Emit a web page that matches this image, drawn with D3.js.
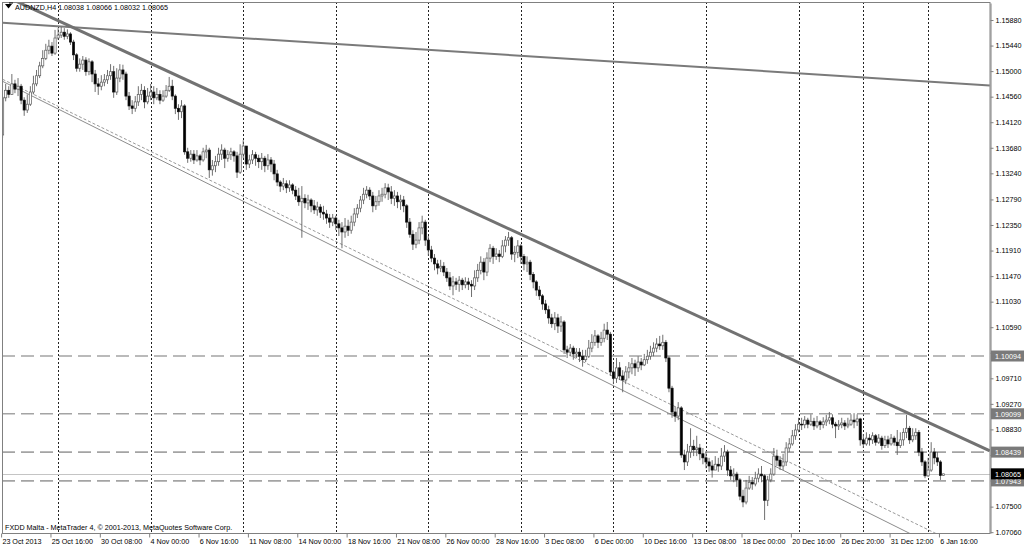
<!DOCTYPE html>
<html>
<head>
<meta charset="utf-8">
<script src="https://cdn.jsdelivr.net/npm/d3@7"></script>
<style>
    body { margin: 0; background: #fff; }
    svg { display: block; font-family: "Liberation Sans", Arial, sans-serif; }
</style>
</head>
<body>
<svg id="chart" width="1024" height="547"></svg>
<script>
// AUDNZD H4 bars, 23 Oct 2013 - 6 Jan 2014 (open = previous close)
var symbol = "AUDNZD,H4";
var firstOpen = 1.1390;
var closes = [
    1.1454,1.1467,1.1460,1.1478,1.1469,1.1474,1.1450,1.1433,1.1443,1.1464,
    1.1478,1.1492,1.1509,1.1522,1.1536,1.1543,1.1531,1.1557,1.1562,1.1567,
    1.1560,1.1564,1.1550,1.1528,1.1505,1.1512,1.1519,1.1499,1.1516,1.1495,
    1.1478,1.1474,1.1481,1.1485,1.1492,1.1499,1.1464,1.1488,1.1502,1.1495,
    1.1457,1.1440,1.1436,1.1447,1.1460,1.1467,1.1447,1.1457,1.1464,1.1454,
    1.1460,1.1450,1.1457,1.1467,1.1474,1.1457,1.1436,1.1430,1.1440,1.1361,
    1.1350,1.1357,1.1347,1.1354,1.1347,1.1361,1.1364,1.1330,1.1337,1.1344,
    1.1357,1.1364,1.1350,1.1356,1.1361,1.1354,1.1326,1.1357,1.1371,1.1340,
    1.1347,1.1356,1.1350,1.1344,1.1350,1.1337,1.1347,1.1340,1.1323,1.1309,
    1.1302,1.1306,1.1299,1.1304,1.1295,1.1285,1.1275,1.1281,1.1273,1.1278,
    1.1268,1.1261,1.1266,1.1257,1.1254,1.1247,1.1240,1.1247,1.1237,1.1230,
    1.1223,1.1233,1.1226,1.1240,1.1254,1.1264,1.1278,1.1288,1.1295,1.1285,
    1.1268,1.1275,1.1285,1.1288,1.1299,1.1292,1.1281,1.1285,1.1275,1.1278,
    1.1268,1.1240,1.1219,1.1202,1.1209,1.1230,1.1240,1.1209,1.1192,1.1178,
    1.1168,1.1161,1.1164,1.1154,1.1144,1.1130,1.1137,1.1133,1.1140,1.1132,
    1.1137,1.1133,1.1130,1.1144,1.1157,1.1171,1.1154,1.1178,1.1195,1.1181,
    1.1185,1.1181,1.1199,1.1209,1.1213,1.1185,1.1188,1.1199,1.1181,1.1168,
    1.1171,1.1150,1.1137,1.1123,1.1113,1.1099,1.1089,1.1075,1.1065,1.1075,
    1.1061,1.1068,1.1020,1.1016,1.1023,1.1013,1.1016,1.1009,1.1003,1.1009,
    1.1023,1.1033,1.1044,1.1033,1.1040,1.1054,1.1047,1.0982,1.0971,1.0989,
    1.0975,1.0968,1.0982,1.0989,1.0996,1.0989,1.0999,1.0994,1.1003,1.1009,
    1.1016,1.1023,1.1030,1.1027,1.1033,1.1006,1.0954,1.0913,1.0906,1.0920,
    1.0839,1.0827,1.0844,1.0854,1.0848,1.0851,1.0841,1.0834,1.0827,1.0820,
    1.0813,1.0823,1.0820,1.0837,1.0844,1.0813,1.0803,1.0806,1.0796,1.0768,
    1.0758,1.0782,1.0792,1.0789,1.0799,1.0806,1.0803,1.0761,1.0796,1.0806,
    1.0837,1.0830,1.0820,1.0827,1.0851,1.0858,1.0872,1.0882,1.0892,1.0891,
    1.0899,1.0892,1.0897,1.0889,1.0896,1.0891,1.0896,1.0899,1.0903,1.0892,
    1.0889,1.0891,1.0894,1.0889,1.0892,1.0899,1.0896,1.0901,1.0865,1.0858,
    1.0868,1.0865,1.0872,1.0861,1.0868,1.0855,1.0865,1.0858,1.0868,1.0861,
    1.0855,1.0865,1.0878,1.0885,1.0865,1.0872,1.0878,1.0844,1.0827,1.0803,
    1.0813,1.0844,1.0834,1.0827,1.08038,1.08065
];
var highs = [
    1.1457,1.1478,1.1474,1.1495,1.1485,1.1488,1.1478,1.1455,1.1460,1.1474,
    1.1492,1.1502,1.1516,1.1536,1.1547,1.1554,1.1550,1.1571,1.1574,1.1576,
    1.1574,1.1572,1.1567,1.1554,1.1531,1.1522,1.1526,1.1524,1.1522,1.1519,
    1.1502,1.1488,1.1493,1.1495,1.1502,1.1512,1.1509,1.1505,1.1512,1.1511,
    1.1499,1.1464,1.1450,1.1457,1.1474,1.1478,1.1474,1.1471,1.1478,1.1474,
    1.1471,1.1467,1.1467,1.1476,1.1490,1.1485,1.1460,1.1443,1.1450,1.1443,
    1.1368,1.1364,1.1364,1.1364,1.1357,1.1368,1.1373,1.1368,1.1347,1.1354,
    1.1368,1.1374,1.1368,1.1364,1.1368,1.1364,1.1361,1.1374,1.1381,1.1368,
    1.1356,1.1364,1.1361,1.1356,1.1359,1.1354,1.1357,1.1352,1.1347,1.1330,
    1.1312,1.1316,1.1312,1.1312,1.1307,1.1302,1.1299,1.1302,1.1288,1.1287,
    1.1281,1.1278,1.1275,1.1271,1.1268,1.1261,1.1254,1.1254,1.1251,1.1244,
    1.1240,1.1247,1.1244,1.1251,1.1264,1.1271,1.1285,1.1299,1.1302,1.1300,
    1.1292,1.1285,1.1295,1.1299,1.1307,1.1306,1.1302,1.1295,1.1292,1.1287,
    1.1285,1.1271,1.1247,1.1226,1.1223,1.1240,1.1251,1.1244,1.1216,1.1199,
    1.1185,1.1175,1.1175,1.1171,1.1161,1.1154,1.1147,1.1144,1.1147,1.1144,
    1.1145,1.1144,1.1140,1.1157,1.1168,1.1181,1.1178,1.1188,1.1202,1.1199,
    1.1195,1.1192,1.1209,1.1216,1.1223,1.1216,1.1199,1.1209,1.1202,1.1185,
    1.1181,1.1175,1.1154,1.1140,1.1130,1.1116,1.1106,1.1096,1.1082,1.1085,
    1.1082,1.1078,1.1071,1.1027,1.1030,1.1027,1.1023,1.1023,1.1020,1.1020,
    1.1037,1.1047,1.1054,1.1047,1.1051,1.1065,1.1068,1.1051,1.0996,1.1006,
    1.0999,1.0985,1.0992,1.0999,1.1006,1.1003,1.1009,1.1006,1.1013,1.1020,
    1.1027,1.1033,1.1040,1.1044,1.1046,1.1037,1.1009,1.0958,1.0923,1.0930,
    1.0923,1.0848,1.0858,1.0885,1.0865,1.0872,1.0858,1.0851,1.0844,1.0834,
    1.0830,1.0837,1.0834,1.0851,1.0856,1.0848,1.0820,1.0816,1.0810,1.0799,
    1.0779,1.0796,1.0803,1.0801,1.0810,1.0816,1.0820,1.0806,1.0803,1.0816,
    1.0851,1.0848,1.0837,1.0841,1.0861,1.0868,1.0882,1.0892,1.0903,1.0903,
    1.0906,1.0903,1.0909,1.0903,1.0906,1.0899,1.0904,1.0908,1.0913,1.0909,
    1.0896,1.0899,1.0903,1.0899,1.0903,1.0909,1.0911,1.0909,1.0903,1.0875,
    1.0878,1.0875,1.0878,1.0875,1.0875,1.0872,1.0872,1.0872,1.0875,1.0872,
    1.0882,1.0878,1.0885,1.0908,1.0889,1.0885,1.0885,1.0882,1.0851,1.0830,
    1.0834,1.0861,1.0851,1.0844,1.0830,1.08066
];
var lows = [
    1.1385,1.1448,1.1454,1.1459,1.1462,1.1457,1.1443,1.1423,1.1428,1.1440,
    1.1460,1.1474,1.1488,1.1505,1.1519,1.1529,1.1526,1.1528,1.1554,1.1557,
    1.1554,1.1555,1.1545,1.1519,1.1499,1.1499,1.1502,1.1492,1.1493,1.1481,
    1.1464,1.1459,1.1467,1.1474,1.1478,1.1485,1.1454,1.1459,1.1481,1.1485,
    1.1450,1.1433,1.1426,1.1430,1.1440,1.1450,1.1436,1.1443,1.1450,1.1443,
    1.1450,1.1443,1.1447,1.1454,1.1464,1.1450,1.1426,1.1416,1.1419,1.1356,
    1.1342,1.1344,1.1340,1.1344,1.1338,1.1344,1.1350,1.1316,1.1320,1.1326,
    1.1337,1.1347,1.1333,1.1344,1.1347,1.1344,1.1316,1.1323,1.1350,1.1330,
    1.1333,1.1340,1.1337,1.1333,1.1330,1.1326,1.1330,1.1326,1.1312,1.1302,
    1.1292,1.1295,1.1290,1.1292,1.1288,1.1278,1.1268,1.1213,1.1264,1.1261,
    1.1257,1.1254,1.1251,1.1247,1.1244,1.1237,1.1230,1.1233,1.1226,1.1216,
    1.1195,1.1213,1.1216,1.1220,1.1233,1.1247,1.1257,1.1271,1.1281,1.1278,
    1.1257,1.1261,1.1268,1.1275,1.1281,1.1278,1.1271,1.1268,1.1264,1.1261,
    1.1257,1.1230,1.1213,1.1192,1.1195,1.1202,1.1219,1.1199,1.1182,1.1171,
    1.1157,1.1150,1.1154,1.1147,1.1137,1.1123,1.1114,1.1123,1.1120,1.1123,
    1.1126,1.1123,1.1111,1.1123,1.1137,1.1150,1.1140,1.1147,1.1171,1.1168,
    1.1175,1.1171,1.1178,1.1188,1.1199,1.1175,1.1171,1.1178,1.1168,1.1157,
    1.1154,1.1140,1.1126,1.1113,1.1106,1.1089,1.1082,1.1065,1.1058,1.1054,
    1.1049,1.1051,1.1013,1.1006,1.1009,1.1003,1.1006,1.0999,1.0991,1.0999,
    1.1006,1.1016,1.1027,1.1023,1.1027,1.1033,1.1037,1.0975,1.0961,1.0963,
    1.0968,1.0947,1.0961,1.0971,1.0978,1.0975,1.0982,1.0985,1.0992,1.0996,
    1.1003,1.1009,1.1016,1.1020,1.1020,1.0999,1.0947,1.0903,1.0896,1.0899,
    1.0834,1.0813,1.0820,1.0834,1.0837,1.0837,1.0830,1.0823,1.0816,1.0810,
    1.0800,1.0813,1.0810,1.0813,1.0827,1.0803,1.0796,1.0792,1.0784,1.0761,
    1.0749,1.0754,1.0779,1.0779,1.0785,1.0792,1.0792,1.0727,1.0751,1.0792,
    1.0803,1.0820,1.0813,1.0813,1.0820,1.0844,1.0855,1.0865,1.0878,1.0882,
    1.0885,1.0885,1.0889,1.0882,1.0885,1.0882,1.0885,1.0889,1.0892,1.0885,
    1.0868,1.0882,1.0885,1.0882,1.0885,1.0889,1.0885,1.0889,1.0855,1.0851,
    1.0855,1.0855,1.0858,1.0855,1.0858,1.0848,1.0851,1.0851,1.0855,1.0855,
    1.0839,1.0851,1.0855,1.0868,1.0858,1.0861,1.0865,1.0837,1.0820,1.0799,
    1.0801,1.0810,1.0823,1.0820,1.0796,1.08032
];

// time axis: one label every 16 bars, week separators at these bars
var dateLabels = ["23 Oct 2013", "25 Oct 16:00", "30 Oct 08:00", "4 Nov 00:00", "6 Nov 16:00",
    "11 Nov 08:00", "14 Nov 00:00", "18 Nov 16:00", "21 Nov 08:00", "26 Nov 00:00",
    "28 Nov 16:00", "3 Dec 08:00", "6 Dec 00:00", "10 Dec 16:00", "13 Dec 08:00",
    "18 Dec 00:00", "20 Dec 16:00", "26 Dec 20:00", "31 Dec 12:00", "6 Jan 16:00"];
var labelStep = 16;
var weekStarts = [18, 48, 78, 108, 138, 168, 198, 228, 258, 279, 300];

var priceTicks = ["1.15880", "1.15440", "1.15000", "1.14560", "1.14120", "1.13680", "1.13240",
    "1.12790", "1.12350", "1.11910", "1.11470", "1.11030", "1.10590", "1.10150", "1.09710",
    "1.09270", "1.08830", "1.08390", "1.07950", "1.07500", "1.07060"];

// horizontal levels and trend lines (bar index, price)
var levels = [1.10094, 1.09099, 1.08439, 1.07943];
var lastPrice = 1.08065;
var longLine = [[0, 1.15831], [320, 1.14754]];
var thickLine = [[0, 1.16311], [320, 1.08460]];
var channelSolid = [[0, 1.14824], [320, 1.06352]];
var channelDashed = [[0, 1.14859], [320, 1.06586]];

var svg = d3.select("#chart");
var plotRight = 990, plotBottom = 533, plotTop = 2;

var x = d3.scaleLinear().domain([0, 320]).range([2.6, 2.6 + 320 * 3.085]);
var y = d3.scaleLinear().domain([1.07046, 1.16173]).range([533, 3]);

svg.append("defs").append("clipPath").attr("id", "plotClip")
    .append("rect").attr("x", 2).attr("y", plotTop).attr("width", plotRight - 2).attr("height", plotBottom - plotTop);

var plot = svg.append("g").attr("clip-path", "url(#plotClip)");

// week separators
plot.selectAll(".week")
    .data(weekStarts)
    .enter()
    .append("line")
    .attr("x1", function (d) { return Math.round(x(d)) + 0.5; })
    .attr("x2", function (d) { return Math.round(x(d)) + 0.5; })
    .attr("y1", plotTop)
    .attr("y2", plotBottom)
    .attr("stroke", "#222")
    .attr("stroke-width", 1)
    .attr("stroke-dasharray", "2,2");

// horizontal levels
plot.selectAll(".level")
    .data(levels)
    .enter()
    .append("line")
    .attr("x1", 2)
    .attr("x2", plotRight)
    .attr("y1", function (d) { return y(d); })
    .attr("y2", function (d) { return y(d); })
    .attr("stroke", "#a4a4a4")
    .attr("stroke-width", 1.6)
    .attr("stroke-dasharray", "13,6");

plot.append("line")
    .attr("x1", 2).attr("x2", plotRight)
    .attr("y1", Math.round(y(lastPrice)) + 0.5)
    .attr("y2", Math.round(y(lastPrice)) + 0.5)
    .attr("stroke", "#c4c4c4")
    .attr("stroke-width", 1);

// trend lines
function drawTrend(pts, color, width, dash) {
    plot.append("line")
        .attr("x1", x(pts[0][0])).attr("y1", y(pts[0][1]))
        .attr("x2", x(pts[1][0])).attr("y2", y(pts[1][1]))
        .attr("stroke", color)
        .attr("stroke-width", width)
        .attr("stroke-dasharray", dash);
}
drawTrend(channelSolid, "#8c8c8c", 1, null);
drawTrend(channelDashed, "#9a9a9a", 1, "3,2");
drawTrend(longLine, "#7a7a7a", 2, null);
drawTrend(thickLine, "#727272", 3, null);

// candles
var bars = closes.map(function (c, i) {
    return { i: i, o: i == 0 ? firstOpen : closes[i - 1], h: highs[i], l: lows[i], c: c };
});

plot.selectAll(".wick")
    .data(bars)
    .enter()
    .append("line")
    .attr("x1", function (d) { return x(d.i); })
    .attr("x2", function (d) { return x(d.i); })
    .attr("y1", function (d) { return y(Math.max(d.h, d.o, d.c)); })
    .attr("y2", function (d) { return y(Math.min(d.l, d.o, d.c)); })
    .attr("stroke", "#606060")
    .attr("stroke-width", 0.9);

plot.selectAll(".body")
    .data(bars)
    .enter()
    .append("rect")
    .attr("x", function (d) { return x(d.i) - 1.1; })
    .attr("y", function (d) { return y(Math.max(d.o, d.c)); })
    .attr("width", 2.2)
    .attr("height", function (d) { return Math.max(0.8, Math.abs(y(d.o) - y(d.c))); })
    .attr("fill", function (d) { return d.c >= d.o ? "#fff" : "#000"; })
    .attr("stroke", function (d) { return d.c >= d.o ? "#5a5a5a" : "#111"; })
    .attr("stroke-width", 0.7);

// frame
svg.append("rect")
    .attr("x", 2.5).attr("y", plotTop + 0.5)
    .attr("width", plotRight - 2.5).attr("height", plotBottom - plotTop)
    .attr("fill", "none")
    .attr("stroke", "#808080")
    .attr("stroke-width", 1);

// price axis; labels hidden under a level box are left out
var boxed = levels.concat([lastPrice]);
function underBox(v) {
    return boxed.some(function (b) { return Math.abs(y(b) - y(v)) < 8; });
}
var yAxis = d3.axisRight(y)
    .tickValues(priceTicks.map(Number))
    .tickFormat(function (d, i) { return underBox(d) ? "" : priceTicks[i]; })
    .tickSize(3)
    .tickSizeOuter(0)
    .tickPadding(2);
var ya = svg.append("g").attr("transform", "translate(" + (plotRight + 0.5) + ",0)").call(yAxis);
ya.select(".domain").attr("stroke", "#808080");
ya.selectAll(".tick line").attr("stroke", "#808080");
ya.selectAll("text").attr("font-size", 7.2).attr("fill", "#000").attr("font-family", "Liberation Sans, Arial, sans-serif");

// time axis
var labelIdx = dateLabels.map(function (d, i) { return i * labelStep; });
var xAxis = d3.axisBottom(x)
    .tickValues(labelIdx)
    .tickFormat(function (d, i) { return dateLabels[i]; })
    .tickSize(4)
    .tickSizeOuter(0);
var xa = svg.append("g").attr("transform", "translate(0," + (plotBottom + 0.5) + ")").call(xAxis);
xa.select(".domain").remove();
xa.selectAll(".tick line").attr("stroke", "#808080").attr("transform", "translate(-1.5,0)");
xa.selectAll("text")
    .attr("text-anchor", "start")
    .attr("dx", "-0.1em")
    .attr("y", 5)
    .attr("font-size", 7.2)
    .attr("fill", "#000")
    .attr("font-family", "Liberation Sans, Arial, sans-serif");

// price labels for the levels
function priceBox(v, fill) {
    var g = svg.append("g").attr("transform", "translate(" + plotRight + "," + y(v) + ")");
    g.append("rect").attr("x", 1).attr("y", -5.5).attr("width", 33).attr("height", 11).attr("fill", fill);
    g.append("text").attr("x", 5).attr("y", 3).attr("font-size", 7.2).attr("fill", "#fff")
        .text(v.toFixed(5));
}
levels.forEach(function (v) { priceBox(v, "#7a7a7a"); });
priceBox(lastPrice, "#000");

// header
svg.append("path").attr("d", "M5,4 L12,4 L8.5,8.5 Z").attr("fill", "#000");
svg.append("line").attr("x1", 9).attr("x2", 13).attr("y1", 3).attr("y2", 3).attr("stroke", "#000");
var last = bars[bars.length - 1];
svg.append("text")
    .attr("x", 15).attr("y", 10)
    .attr("font-size", 7.2)
    .attr("fill", "#000")
    .text(symbol + "  " + [last.o, last.h, last.l, last.c].map(function (v) { return v.toFixed(5); }).join(" "));

svg.append("text")
    .attr("x", 5).attr("y", 530)
    .attr("font-size", 7.2)
    .attr("fill", "#000")
    .text("FXDD Malta - MetaTrader 4, \u00a9 2001-2013, MetaQuotes Software Corp.");
</script>
</body>
</html>
